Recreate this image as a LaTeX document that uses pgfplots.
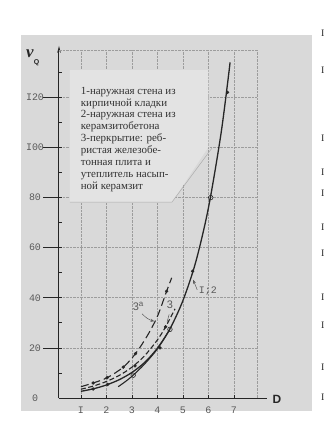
\documentclass[border=0pt]{standalone}
\usepackage{fontspec}
\setmainfont{Liberation Serif}
\newfontfamily\monofont{Liberation Mono}
\newfontfamily\sansfont{Liberation Sans}
\newfontfamily\boxfont{Liberation Serif}
\usepackage{pgfplots}
\usepackage{pgfplotstable}
\pgfplotsset{compat=1.18}
\usetikzlibrary{arrows.meta}
\definecolor{bg}{HTML}{D9D9D9}
\definecolor{boxc}{HTML}{E3E3E3}
\definecolor{ink}{HTML}{262626}
\definecolor{txt}{HTML}{333333}
\definecolor{gridc}{HTML}{9C9C9C}
\definecolor{lab}{HTML}{5A5A5A}

\pgfplotstableread{
D v
1.00 2.66
1.50 3.70
2.00 5.20
2.50 7.30
3.00 10.2
3.50 14.2
4.00 19.9
4.50 27.8
5.00 38.9
5.50 54.2
6.00 75.9
6.50 106
6.85 134
}\curveone
\pgfplotstableread{
D v
1.48 3.6
2.05 5.4
4.10 20.0
5.38 50.6
6.75 122
}\markone
\pgfplotstableread{
D v
2.46 4.5
2.75 6.6
3.05 9.1
3.50 13.6
4.00 19.6
4.49 27.4
}\curvetwo
\pgfplotstableread{
D v
3.05 9.1
4.49 27.4
6.09 80.0
}\marktwo
\pgfplotstableread{
D v
1.00 3.5
1.50 4.8
2.00 6.6
2.50 9.0
3.00 12.3
3.50 16.9
4.00 23.2
4.32 28.4
4.69 35.6
}\curvethree
\pgfplotstableread{
D v
3.12 12.8
4.32 28.4
}\markthree
\pgfplotstableread{
D v
1.00 4.5
1.48 6.0
2.03 8.1
2.66 12.3
3.14 17.7
3.60 24.8
4.00 32.6
4.36 42.6
4.56 48.0
}\curvethreea
\pgfplotstableread{
D v
1.48 6.0
2.03 8.1
2.66 12.3
3.14 17.7
4.36 42.6
}\markthreea

\begin{document}
\begin{tikzpicture}
\path[use as bounding box] (0,0) rectangle (326bp,421bp);
\fill[bg] (20.7bp,10bp) rectangle (311.7bp,386bp);
\begin{axis}[
  at={(59bp,23bp)}, anchor=south west,
  x=25.5bp, y=2.505bp,
  xmin=0.14, xmax=7.9, ymin=0, ymax=139,
  axis lines=left,
  x axis line style={-, shorten >=-10bp, line width=1bp, ink},
  y axis line style={-{Stealth[length=7bp,width=3.5bp]}, shorten >=-4bp, line width=1bp, ink},
  clip=false,
  xtick={1,...,7}, xticklabels={I,2,3,4,5,6,7},
  ytick={0,20,...,120}, yticklabels={0,20,40,60,80,I00,I20},
  minor ytick={10,30,...,130},
  extra x ticks={7.9}, extra x tick labels={},
  extra y ticks={139}, extra y tick labels={},
  extra tick style={major tick length=0pt},
  grid=major,
  major grid style={gridc, line width=0.6bp, dash pattern=on 2.5bp off 1bp},
  tick align=inside, major tick length=3bp, minor tick length=3bp,
  tick style={ink, line width=0.7bp},
  xticklabel style={font=\monofont\fontsize{10}{10}\selectfont, text=lab, anchor=center, inner sep=0pt, yshift=-12bp},
  yticklabel style={font=\monofont\fontsize{10}{10}\selectfont, text=lab, anchor=center, inner sep=0pt, xshift=-24bp},
]
\fill[boxc] (axis cs:0.57,130.9) -- (axis cs:6.0,130.9) -- (axis cs:6.0,100.2) -- (axis cs:4.57,78.2) -- (axis cs:0.57,78.2) -- cycle;
\draw[gray!65, line width=0.5bp] (axis cs:0.57,78.2) -- (axis cs:4.57,78.2) -- (axis cs:6.14,99.8);
\node[anchor=north west, inner sep=0pt, align=left, font=\boxfont\fontsize{11}{12}\selectfont, text=txt] at (axis cs:0.99,124.3)
 {1-наружная стена из\\кирпичной кладки\\2-наружная стена из\\керамзитобетона\\3-перкрытие: реб-\\ристая железобе-\\тонная плита и\\утеплитель насып-\\ной керамзит};
\pgfplotsinvokeforeach{20,40,60,80,100,120}{
  \draw[ink, line width=0.7bp] (axis cs:0.14,#1) -- ++(-12bp,0);
}
% curves
\addplot[ink, line width=1.3bp, smooth] table[x=D,y=v] {\curveone};
\addplot[ink, line width=1.1bp, smooth] table[x=D,y=v] {\curvetwo};
\addplot[ink, line width=1.1bp, smooth, dash pattern=on 5bp off 2.5bp] table[x=D,y=v] {\curvethree};
\addplot[ink, line width=1.1bp, smooth, dash pattern=on 8bp off 4bp] table[x=D,y=v] {\curvethreea};
% marks
\addplot[only marks, mark=*, mark size=1.5bp, ink] table[x=D,y=v] {\markone};
\addplot[only marks, mark=o, mark size=2.3bp, ink, line width=0.6bp] table[x=D,y=v] {\marktwo};
\addplot[only marks, mark=*, mark size=1.5bp, ink] table[x=D,y=v] {\markthree};
\addplot[only marks, mark=*, mark size=1.5bp, ink] table[x=D,y=v] {\markthreea};
% labels
\node[font=\sansfont\fontsize{11}{11}\selectfont, text=lab] at (axis cs:3.24,36.7) {3\raisebox{4bp}{\fontsize{8}{8}\selectfont a}};
\draw[-{Stealth[length=4bp,width=3bp]}, lab, line width=0.5bp] (axis cs:3.40,33.6) to[bend right=15] (axis cs:3.88,30.6);
\node[font=\sansfont\fontsize{11}{11}\selectfont, text=lab] at (axis cs:4.49,37.2) {3};
\draw[lab, line width=0.5bp] (axis cs:4.46,33.4) -- (axis cs:4.38,30.4);
\draw[-{Stealth[length=4bp,width=3bp]}, lab, line width=0.5bp] (axis cs:5.56,43.2) -- (axis cs:5.40,47.2);
\node[anchor=west, inner sep=0pt, font=\monofont\fontsize{10}{10}\selectfont, text=lab] at (axis cs:5.62,42.7) {I;2};
\end{axis}
\node[text=ink, inner sep=0pt, font=\bfseries\itshape\fontsize{17}{17}\selectfont] at (30bp,367bp) {ν};
\node[text=ink, inner sep=0pt, font=\sansfont\bfseries\fontsize{7}{7}\selectfont] at (36.5bp,358bp) {Q};
\node[text=ink, inner sep=0pt, font=\sansfont\bfseries\fontsize{12}{12}\selectfont] at (277bp,22bp) {D};
\foreach \yy in {388,351,283,249,228,194,168,124,96,54,24}{
  \node[anchor=west, inner sep=0pt, font=\fontsize{10}{10}\selectfont, text=ink] at (321bp,\yy bp) {I};
}
\end{tikzpicture}
\end{document}
